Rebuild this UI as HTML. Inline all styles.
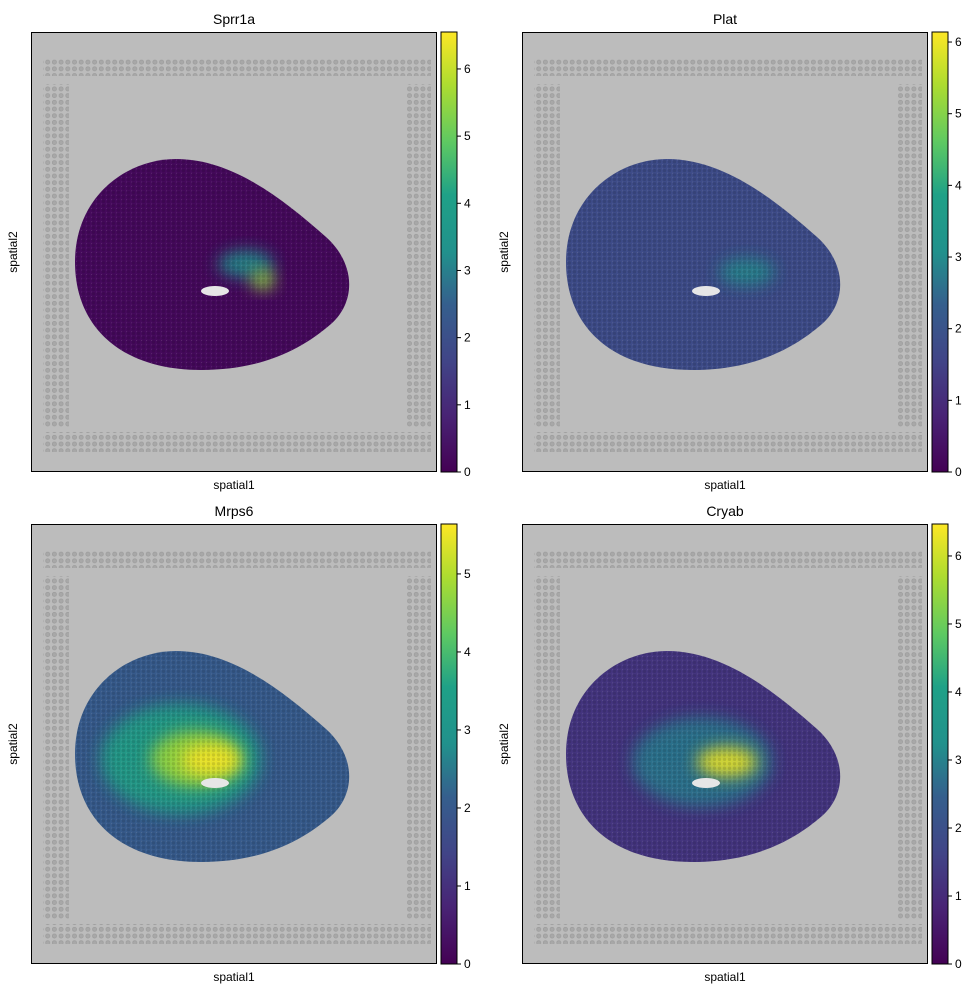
<!DOCTYPE html>
<html><head><meta charset="utf-8"><style>
body{margin:0;background:#fff;font-family:"Liberation Sans",sans-serif}
svg text{font-family:"Liberation Sans",sans-serif;fill:#000}
</style></head><body>
<svg id="fig" width="977" height="994" viewBox="0 0 977 994" xmlns="http://www.w3.org/2000/svg">
<defs>
<linearGradient id="vir" x1="0" y1="1" x2="0" y2="0">
<stop offset="0" stop-color="#440154"/><stop offset="0.13" stop-color="#482475"/><stop offset="0.25" stop-color="#414487"/><stop offset="0.38" stop-color="#355f8d"/><stop offset="0.5" stop-color="#21918c"/><stop offset="0.63" stop-color="#1fa187"/><stop offset="0.75" stop-color="#5ec962"/><stop offset="0.88" stop-color="#addc30"/><stop offset="1" stop-color="#fde725"/>
</linearGradient>
<pattern id="fid" width="6.7" height="6.7" patternUnits="userSpaceOnUse"><circle cx="3.3" cy="3.3" r="2.1" fill="#a8a8a8" stroke="#999" stroke-width="0.6"/></pattern>
<pattern id="spots" width="5" height="4.4" patternUnits="userSpaceOnUse"><circle cx="2.5" cy="2.2" r="1.7" fill="#000" opacity="0.12"/><circle cx="0" cy="0" r="1" fill="#aaa" opacity="0.25"/></pattern>
<filter id="blur" x="-50%" y="-50%" width="200%" height="200%"><feGaussianBlur stdDeviation="8"/></filter>
</defs>
</svg>
<script>
const genes=["Sprr1a","Plat","Mrps6","Cryab"];
const vmax=[6.55,6.14,5.64,6.47];
const ticks=[[0,1,2,3,4,5,6],[0,1,2,3,4,5,6],[0,1,2,3,4,5],[0,1,2,3,4,5,6]];
const baseVal=[0.15,1.4,1.6,1.0];
// hotspots: [cx, cy, rx, ry, value] in tissue-local units
const hot0=[[215,232,28,14,3.2],[232,248,12,10,5.5]];
const hot1=[[225,240,28,14,2.8]];
const hot2=[[150,235,80,55,3.2],[165,235,45,28,4.8],[180,236,30,16,5.6]];
const hot3=[[180,238,70,45,2.6],[205,238,30,15,6.3]];
const hots=[hot0,hot1,hot2,hot3];
const origins=[[31,32],[522,32],[31,524],[522,524]];
const stops=["#440154","#482475","#414487","#355f8d","#2a788e","#21918c","#22a884","#44bf70","#7ad151","#bddf26","#fde725"];
function vir(t){t=Math.max(0,Math.min(1,t));const p=t*10,i=Math.min(9,Math.floor(p)),f=p-i;
 const a=stops[i],b=stops[i+1];const c=k=>Math.round(parseInt(a.substr(k,2),16)*(1-f)+parseInt(b.substr(k,2),16)*f);
 return `rgb(${c(1)},${c(3)},${c(5)})`;}
const NS="http://www.w3.org/2000/svg",svg=document.getElementById("fig");
function mk(t,a,p){const e=document.createElementNS(NS,t);for(const k in a)e.setAttribute(k,a[k]);(p||svg).appendChild(e);return e;}
const W=406,H=440,CBW=16;
const TP="M44,230 C44,165 95,127 145,127 C200,127 250,165 295,205 C325,232 325,270 300,292 C270,318 230,338 170,338 C90,338 44,295 44,230 Z";
genes.forEach((g,i)=>{
 const [ox,oy]=origins[i];
 const grp=mk("g",{transform:`translate(${ox},${oy})`});
 
 
 const cid="clip"+i;
 const cp=mk("clipPath",{id:cid},grp);mk("path",{d:TP},cp);
 mk("rect",{x:0,y:0,width:W,height:H,fill:"#bcbcbc"},grp);
 [[12,26,388,18],[12,400,388,20],[12,52,26,343],[375,52,25,343]].forEach(r=>mk("rect",{x:r[0],y:r[1],width:r[2],height:r[3],fill:"url(#fid)"},grp));
 const yS=v=>H-v/vmax[i]*H;
 const tissue=mk("path",{d:TP,fill:vir(baseVal[i]/vmax[i])},grp);
 
 
 const hg=mk("g",{"clip-path":`url(#${cid})`},grp);
 hots[i].forEach(h=>{
  const e=mk("ellipse",{cx:h[0],cy:h[1],rx:h[2],ry:h[3],fill:vir(h[4]/vmax[i]),opacity:0.9,filter:"url(#blur)"},hg);
  
  
 });
 mk("path",{d:TP,fill:"url(#spots)"},grp);
 mk("ellipse",{cx:184,cy:259,rx:14,ry:5,fill:"#e6e6e6"},grp);
 mk("rect",{x:0.5,y:0.5,width:W-1,height:H-1,fill:"none",stroke:"#000","stroke-width":1},grp);
 const t=mk("text",{x:W/2,y:-8,"text-anchor":"middle","font-size":14},grp);t.textContent=g;
 
 
 const xl=mk("text",{x:W/2,y:H+17,"text-anchor":"middle","font-size":12},grp);xl.textContent="spatial1";
 
 
 const yl=mk("text",{x:-14,y:H/2,"text-anchor":"middle","font-size":12,transform:`rotate(-90 -14 ${H/2})`},grp);yl.textContent="spatial2";
 
 
 const cb=mk("rect",{x:W+4,y:0,width:CBW,height:H,fill:"url(#vir)",stroke:"#000","stroke-width":1},grp);
 
 
 ticks[i].forEach(v=>{
  mk("line",{x1:W+4+CBW,x2:W+4+CBW+4,y1:yS(v),y2:yS(v),stroke:"#000"},grp);
  const tl=mk("text",{x:W+4+CBW+7,y:yS(v)+4,"font-size":12},grp);tl.textContent=v;
  
  
 });
});
</script>
</body></html>
